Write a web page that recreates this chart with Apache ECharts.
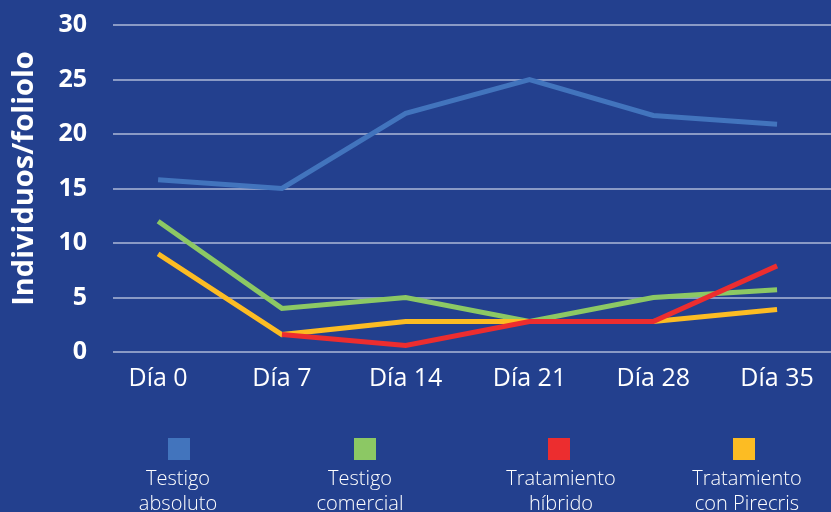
<!doctype html>
<html>
<head>
<meta charset="UTF-8">
<title>Individuos/foliolo</title>
<script src="https://cdn.jsdelivr.net/npm/echarts@6/dist/echarts.min.js"></script>
<style>
  html, body { margin: 0; padding: 0; background: #23408e; }
  #chart { width: 831px; height: 512px; }
</style>
</head>
<body>
<div id="chart"></div>
<script>
// dias de muestreo
var dias = [0, 7, 14, 21, 28, 35];
var etiquetasDias = ['Día 0', 'Día 7', 'Día 14', 'Día 21', 'Día 28', 'Día 35'];

var testigoAbsoluto = [15.8, 15, 21.9, 25, 21.7, 20.9];
var testigoComercial = [12, 4, 5, 2.8, 5, 5.7];
var tratamientoHibrido = [null, 1.6, 0.6, 2.8, 2.8, 7.9];
var tratamientoPirecris = [9, 1.6, 2.8, 2.8, 2.8, 3.9];

var nombres = ['Testigo absoluto', 'Testigo comercial', 'Tratamiento híbrido', 'Tratamiento con Pirecris'];
var textosLeyenda = ['Testigo\nabsoluto', 'Testigo\ncomercial', 'Tratamiento\nhíbrido', 'Tratamiento\ncon Pirecris'];
var colores = ['#4274bd', '#8cc864', '#ec2d2f', '#fcbc23'];

var fuente = '"Open Sans", Lato, sans-serif';

function pares(valores) {
  var out = [];
  for (var i = 0; i < dias.length; i++) {
    out.push([dias[i], valores[i]]);
  }
  return out;
}

var chart = echarts.init(document.getElementById('chart'));

var datos = [testigoAbsoluto, testigoComercial, tratamientoHibrido, tratamientoPirecris];
var series = [];
// orden de dibujo: azul, verde, amarillo, rojo (rojo encima)
var ordenDibujo = [0, 1, 3, 2];
for (var k = 0; k < ordenDibujo.length; k++) {
  var i = ordenDibujo[k];
  series.push({
    name: nombres[i],
    type: 'line',
    data: pares(datos[i]),
    symbol: 'none',
    color: colores[i],
    lineStyle: { width: 5, color: colores[i], cap: 'butt', join: 'miter' },
    emphasis: { disabled: true },
    z: 2 + k
  });
}

// una leyenda por serie (solo el cuadrado), texto debajo con graphic
var leyendaX = [168, 354, 548, 733];
var textoX = [178, 360, 561, 747];
var legends = [];
var graphics = [];
for (var j = 0; j < nombres.length; j++) {
  legends.push({
    data: [nombres[j]],
    left: leyendaX[j],
    top: 438,
    icon: 'rect',
    itemWidth: 22,
    itemHeight: 22,
    itemGap: 0,
    padding: 0,
    selectedMode: false,
    formatter: function() { return ''; },
    textStyle: { fontSize: 1 }
  });
  graphics.push({
    type: 'text',
    x: textoX[j],
    y: 467,
    style: {
      text: textosLeyenda[j],
      fill: '#ffffff',
      font: '300 20px ' + fuente,
      textAlign: 'center',
      lineHeight: 25
    }
  });
}

var option = {
  backgroundColor: '#23408e',
  animation: false,
  grid: {
    left: 113,
    right: 0,
    top: 25,
    bottom: 160
  },
  legend: legends,
  xAxis: {
    type: 'value',
    min: -2.55,
    max: 38.05,
    axisLine: { show: false },
    axisTick: { show: false },
    splitLine: { show: false },
    axisLabel: {
      customValues: dias,
      formatter: function(v) {
        return etiquetasDias[dias.indexOf(v)];
      },
      color: '#ffffff',
      fontFamily: fuente,
      fontSize: 25,
      margin: 14
    }
  },
  yAxis: {
    type: 'value',
    min: 0,
    max: 30,
    interval: 5,
    name: 'Individuos/foliolo',
    nameLocation: 'middle',
    nameGap: 74,
    nameTextStyle: {
      color: '#ffffff',
      fontFamily: fuente,
      fontWeight: 'bold',
      fontSize: 29,
      padding: [0, 0, 0, 20]
    },
    axisLine: { show: false },
    axisTick: { show: false },
    splitLine: {
      lineStyle: { color: 'rgba(220,225,240,0.75)', width: 1.5 }
    },
    axisLabel: {
      color: '#ffffff',
      fontFamily: fuente,
      fontWeight: 'bold',
      fontSize: 25,
      margin: 26
    }
  },
  graphic: graphics,
  series: series
};

chart.setOption(option);
</script>
</body>
</html>
